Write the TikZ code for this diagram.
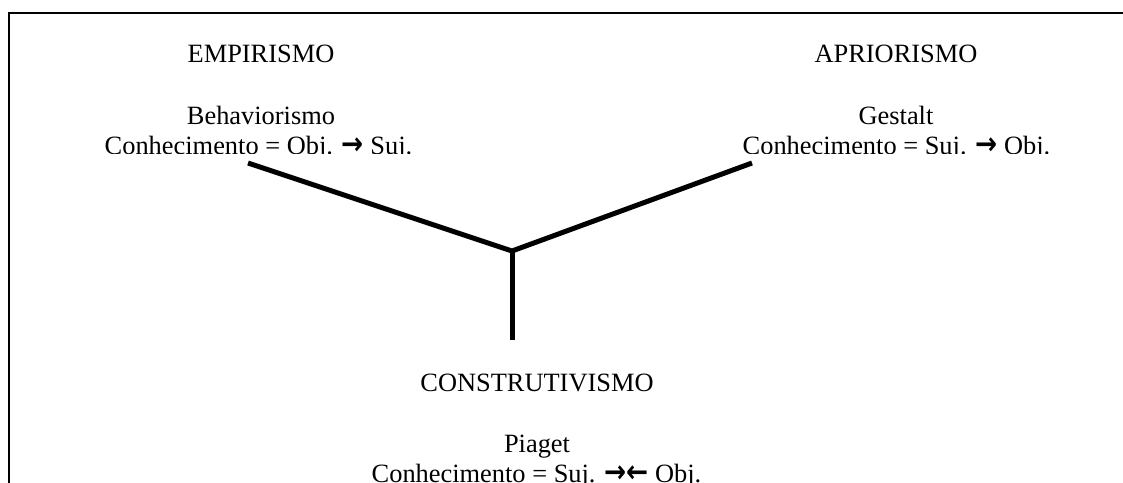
\documentclass[tikz,border=0pt]{standalone}
\usepackage{fontspec}
\usepackage{graphicx}
\setmainfont{Liberation Serif}
\newfontfamily\arrowfont{DejaVu Sans}
\newcommand{\rarr}{\scalebox{0.85}[1]{\arrowfont\bfseries\fontsize{31}{31}\selectfont →}}
\newcommand{\larr}{\scalebox{0.85}[1]{\arrowfont\bfseries\fontsize{31}{31}\selectfont ←}}
\begin{document}
\begin{tikzpicture}[x=1pt,y=-1pt,
  txt/.style={anchor=base,inner sep=0pt,font=\fontsize{26.4}{30.5}\selectfont},
  branch/.style={line width=5pt,line cap=butt,line join=miter},
  frame/.style={line width=1.5pt}]
\useasboundingbox (0,0) rectangle (1123,482);

% open frame: top and left edges
\coordinate (fb) at (9,490);
\coordinate (fc) at (9,13);
\coordinate (fr) at (1130,13);
\draw[frame] (fb) -- (fc) -- (fr);

% upper text groups, last line trimmed at its baseline
\begin{scope}
\clip (0,0) rectangle (1123,153);
\node[txt] (emp)   at (261,62)    {EMPIRISMO};
\node[txt] (behav) at (261,124)   {Behaviorismo};
\node[txt] (cemp)  at (258.5,154) {Conhecimento = Obj. \rarr{} Suj.};
\node[txt] (apr)   at (896,62)    {APRIORISMO};
\node[txt] (gest)  at (896,124)   {Gestalt};
\node[txt] (capr)  at (896.5,154) {Conhecimento = Suj. \rarr{} Obj.};
\end{scope}

% lower text group
\begin{scope}
\clip (0,0) rectangle (1123,482);
\node[txt] (constr) at (537,391)   {CONSTRUTIVISMO};
\node[txt] (piaget) at (537,452)   {Piaget};
\node[txt] (ccon)   at (536.5,482.5) {Conhecimento = Suj. \rarr\larr{} Obj.};
\end{scope}

% the three branches meeting in one point
\coordinate (j)  at (512,251);
\coordinate (le) at (248,163);
\coordinate (re) at (752,163);
\coordinate (be) at (512,340);
\draw[branch] (le) -- (j) -- (re);
\draw[branch] (j) -- (be);
\end{tikzpicture}
\end{document}
